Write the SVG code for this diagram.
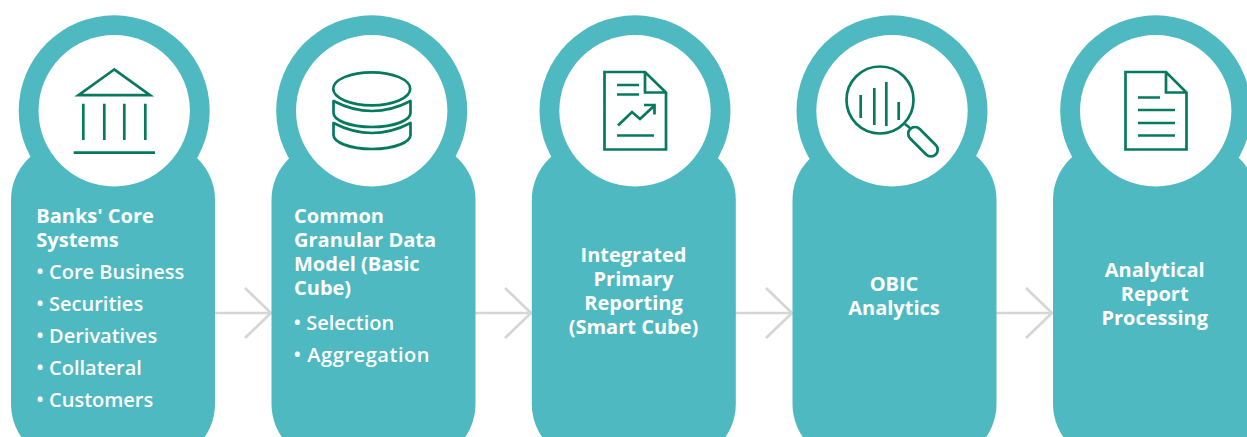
<svg xmlns="http://www.w3.org/2000/svg" width="1247" height="437" viewBox="0 0 1247 437">
<style>
.b{fill:#4fb9c1}
.w{fill:#fff}
.i{fill:none;stroke:#06795f;stroke-width:2.7}
.c{fill:none;stroke:#d6d6d6;stroke-width:2.7}
text{font-family:"Open Sans","Liberation Sans",sans-serif;font-size:20px;font-weight:600;fill:#fff}
.h{font-weight:700}
.m{text-anchor:middle;font-weight:700}
</style>
<defs>
<circle id="ring" class="b" cx="0" cy="110.8" r="95.5"/>
<rect id="body" class="b" x="0" y="142" width="204" height="320" rx="58"/>
<circle id="hole" class="w" cx="0" cy="110.8" r="75.7"/>
</defs>
<rect width="1247" height="437" fill="#fff"/>
<g id="connectors">
<path class="c" d="M215 313H271M245 288L271 313L245 338"/>
<path class="c" d="M475 313H531M505 288L531 313L505 338"/>
<path class="c" d="M735 313H792M766 288L792 313L766 338"/>
<path class="c" d="M996 313H1052M1026 288L1052 313L1026 338"/>
</g>
<g id="node-1">
<use href="#ring" x="114.200"/><use href="#body" x="11"/><use href="#hole" x="114.200"/>
<path class="i" d="M114.200 69.500L78.500 95.200H150L114.200 69.500ZM83.300 103.700V140M104.300 103.700V140M124.300 103.700V140M145.300 103.700V140M73.700 152.700H155"/>
<text class="h" x="36.300" y="223">Banks' Core</text>
<text class="h" x="36.300" y="247">Systems</text>
<text x="36.300" y="279">• Core Business</text>
<text x="36.300" y="311">• Securities</text>
<text x="36.300" y="343">• Derivatives</text>
<text x="36.300" y="375">• Collateral</text>
<text x="36.300" y="407">• Customers</text>
</g>
<g id="node-2">
<use href="#ring" x="371.700"/><use href="#body" x="271.500"/><use href="#hole" x="371.700"/>
<ellipse class="i" cx="371.700" cy="88.800" rx="38.500" ry="16.500"/>
<path class="i" stroke-linejoin="round" d="M333.500 101Q372 121 410.500 101V113C410.500 120 395 127 372 127C349 127 333.500 120 333.500 113ZM333.500 123Q372 143 410.500 123V135C410.500 142 395 149 372 149C349 149 333.500 142 333.500 135Z"/>
<text class="h" x="294" y="223">Common</text>
<text class="h" x="294" y="247">Granular Data</text>
<text class="h" x="294" y="271">Model (Basic</text>
<text class="h" x="294" y="295">Cube)</text>
<text x="293.500" y="330">• Selection</text>
<text x="293.500" y="362" textLength="136">• Aggregation</text>
</g>
<g id="node-3">
<use href="#ring" x="635"/><use href="#body" x="531.800"/><use href="#hole" x="635"/>
<path class="i" d="M604.500 72H645L666 92.500V149.500H604.500ZM645 72V92.500H666M617 85H639M617 94.500H639M618 125.500L632 112L640 119L654 106M644 105H654.500V114.500M617 135.500H654"/>
<text class="m" x="633.500" y="262">Integrated</text>
<text class="m" x="633.500" y="286">Primary</text>
<text class="m" x="633.500" y="310">Reporting</text>
<text class="m" x="633.500" y="334">(Smart Cube)</text>
</g>
<g id="node-4">
<use href="#ring" x="892"/><use href="#body" x="792.500"/><use href="#hole" x="892"/>
<circle class="i" cx="880" cy="100" r="33.500"/>
<path class="i" d="M860.700 95V118M874.300 88V125M886.300 82V126M898.700 102V120M905 124L910 128"/>
<rect class="i" x="905" y="135" width="36" height="13.500" rx="6.700" transform="rotate(45 923 141.700)"/>
<text class="m" x="894" y="291">OBIC</text>
<text class="m" x="894" y="315">Analytics</text>
</g>
<g id="node-5">
<use href="#ring" x="1155.700"/><use href="#body" x="1053"/><use href="#hole" x="1155.700"/>
<path class="i" d="M1125.500 72H1166L1186.500 92.500V149.500H1125.500ZM1166 72V92.500H1186.500M1138 97.500H1160M1138 110H1175M1138 123H1175M1138 135.500H1175"/>
<text class="m" x="1154.700" y="277">Analytical</text>
<text class="m" x="1154.700" y="301">Report</text>
<text class="m" x="1154.700" y="325">Processing</text>
</g>
</svg>
